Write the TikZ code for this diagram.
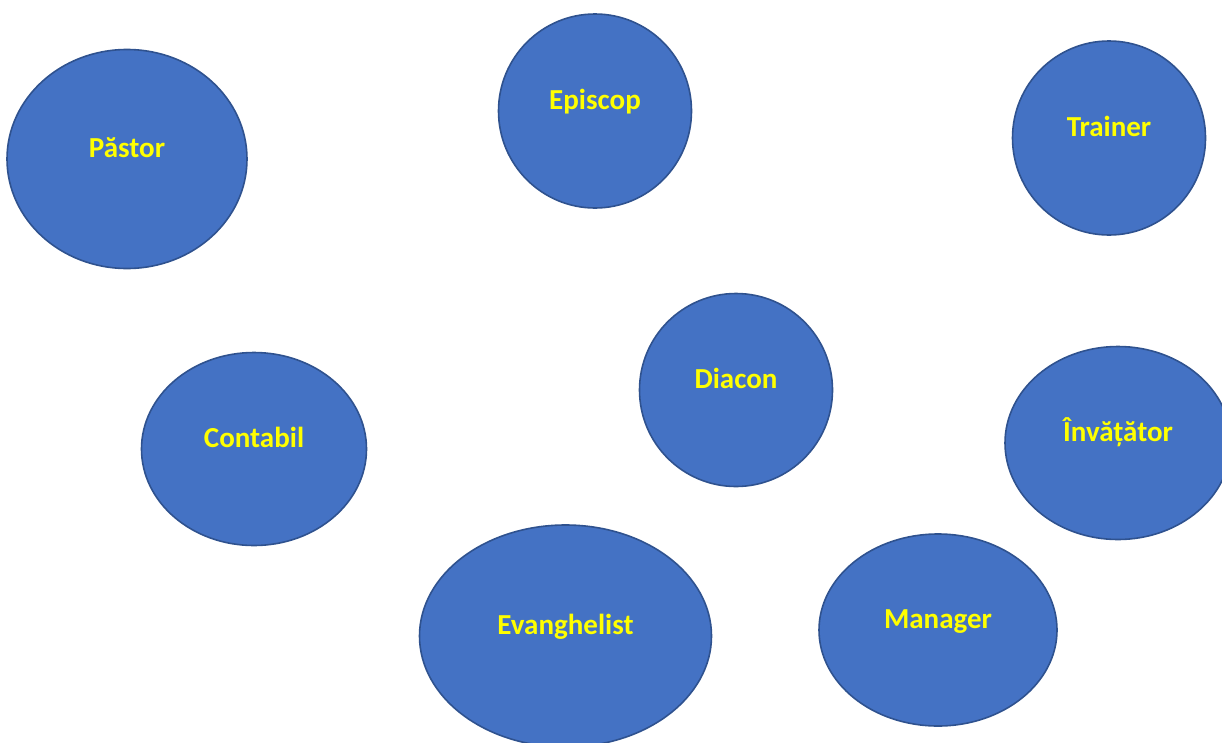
\documentclass[tikz,border=0pt]{standalone}
\usepackage{fontspec}
\setmainfont{Carlito}
\usepackage{tikz}
\usetikzlibrary{shapes}

\definecolor{rolefill}{HTML}{4472C4}
\definecolor{roleedge}{HTML}{2F528F}
\definecolor{roletext}{HTML}{FFFF00}

\tikzset{
  role/.style={ellipse, draw=roleedge, fill=rolefill, line width=1.6pt, inner sep=0pt},
  rolename/.style={text=roletext, font=\bfseries\fontsize{29}{35}\selectfont, text height=18pt, text depth=0pt, inner sep=0pt, yshift=11pt}
}

\begin{document}
\begin{tikzpicture}[x=1pt,y=-1pt]
\useasboundingbox (0,0) rectangle (1222,742);
\node[role, minimum width=240pt, minimum height=219pt, label={[rolename]center:Păstor}] (pastor) at (127,159) {};
\node[role, minimum width=193pt, minimum height=194pt, label={[rolename]center:Episcop}] (episcop) at (595,111) {};
\node[role, minimum width=193pt, minimum height=194pt, label={[rolename]center:Trainer}] (trainer) at (1109,138) {};
\node[role, minimum width=225pt, minimum height=193pt, label={[rolename]center:Contabil}] (contabil) at (254,449) {};
\node[role, minimum width=193pt, minimum height=193pt, label={[rolename]center:Diacon}] (diacon) at (736,390) {};
\node[role, minimum width=226pt, minimum height=193pt, label={[rolename]center:Învățător}] (invatator) at (1118,443) {};
\node[role, minimum width=292pt, minimum height=222pt, label={[rolename]center:Evanghelist}] (evanghelist) at (565.5,636) {};
\node[role, minimum width=238pt, minimum height=192pt, label={[rolename]center:Manager}] (manager) at (938,630) {};
\end{tikzpicture}
\end{document}
